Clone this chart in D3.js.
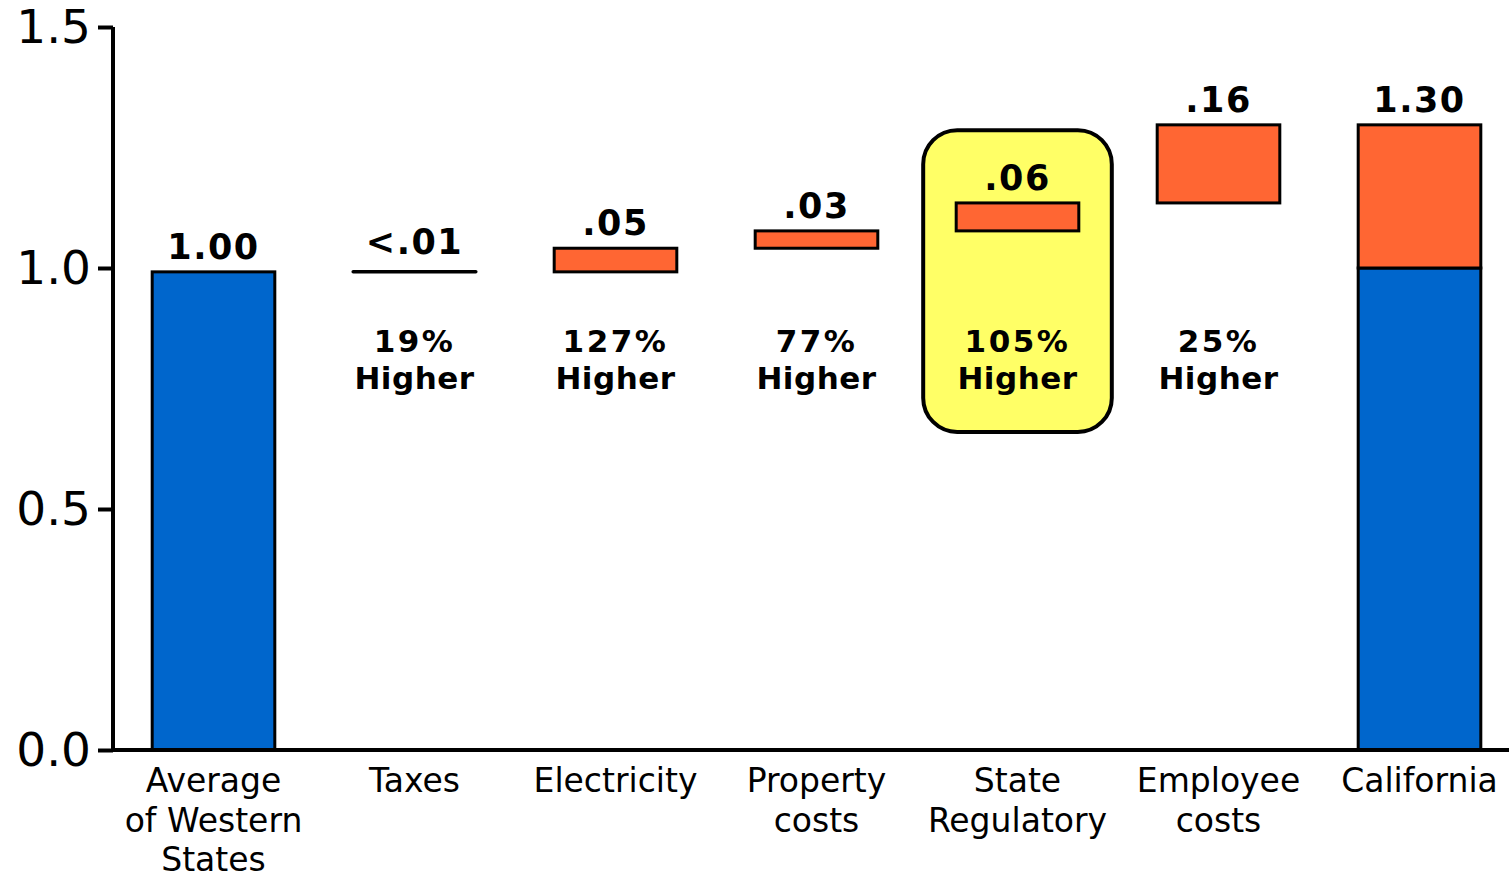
<!DOCTYPE html>
<html><head><meta charset="utf-8">
<script src="https://cdn.jsdelivr.net/npm/d3@7"></script>
<style>html,body{margin:0;padding:0;background:#fff;}svg{display:block;}</style>
</head><body>
<svg id="c" width="1509" height="879"></svg>
<script>
const categories = ["Average\nof Western\nStates", "Taxes", "Electricity", "Property\ncosts", "State\nRegulatory", "Employee\ncosts", "California"];
const barBase  = [0,     0.992, 0.992, 1.041, 1.077, 1.135, 0];
const barTop   = [0.992, 0.992, 1.041, 1.077, 1.135, 1.297, 1.0];
const barKind  = ["base", "line", "delta", "delta", "delta", "delta", "base"];
const stackBase = [null, null, null, null, null, null, 1.0];
const stackTop  = [null, null, null, null, null, null, 1.297];
const valueLabels = ["1.00", "<.01", ".05", ".03", ".06", ".16", "1.30"];
const pctLabels = [null, "19%", "127%", "77%", "105%", "25%", null];
const highlightIndex = 4;
const yTicks = [0, 0.5, 1.0, 1.5];
const yTickLabels = ["0.0", "0.5", "1.0", "1.5"];

const BLUE = "#0066CC", ORANGE = "#FF6633", YELLOW = "#FFFF66";
const svg = d3.select("#c");
const x = d3.scaleBand().domain(d3.range(categories.length)).range([113, 1520]).paddingInner(0.39).paddingOuter(0.195);
const y = d3.scaleLinear().domain([0, 1.5]).range([750, 27]);

// highlight box
const hx = x(highlightIndex), hw = x.bandwidth();
svg.append("rect")
  .attr("x", hx - 33).attr("y", y(1.286))
  .attr("width", hw + 66).attr("height", y(0.66) - y(1.286))
  .attr("rx", 34).attr("ry", 34)
  .attr("fill", YELLOW).attr("stroke", "#000").attr("stroke-width", 4);

// bars
categories.forEach((c, i) => {
  const bx = x(i), bw = x.bandwidth();
  if (barKind[i] === "line") {
    svg.append("line").attr("x1", bx).attr("x2", bx + bw)
      .attr("y1", y(barTop[i])).attr("y2", y(barTop[i]))
      .attr("stroke", "#000").attr("stroke-width", 3.5).attr("stroke-linecap", "round");
  } else {
    svg.append("rect").attr("x", bx).attr("width", bw)
      .attr("y", y(barTop[i])).attr("height", y(barBase[i]) - y(barTop[i]))
      .attr("fill", barKind[i] === "base" ? BLUE : ORANGE)
      .attr("stroke", "#000").attr("stroke-width", 3);
  }
  if (stackBase[i] != null) {
    svg.append("rect").attr("x", bx).attr("width", bw)
      .attr("y", y(stackTop[i])).attr("height", y(stackBase[i]) - y(stackTop[i]))
      .attr("fill", ORANGE).attr("stroke", "#000").attr("stroke-width", 3);
  }
  const top = stackTop[i] != null ? stackTop[i] : barTop[i];
  svg.append("text").attr("x", bx + bw / 2).attr("y", y(top) - (barKind[i] === "line" ? 18 : 13))
    .attr("text-anchor", "middle").attr("font-family", "DejaVu Sans").attr("font-weight", "bold")
    .attr("font-size", 35).attr("letter-spacing", 1.5).text(valueLabels[i]);
  if (pctLabels[i]) {
    const t = svg.append("text").attr("text-anchor", "middle")
      .attr("font-family", "DejaVu Sans").attr("font-weight", "bold").attr("font-size", 31);
    t.append("tspan").attr("x", bx + bw / 2).attr("y", 352).attr("letter-spacing", 2.5).text(pctLabels[i]);
    t.append("tspan").attr("x", bx + bw / 2).attr("y", 389).attr("letter-spacing", 0.5).text("Higher");
  }
});

// axes
const yAxis = svg.append("g").attr("transform", "translate(113,0)")
  .call(d3.axisLeft(y).tickValues(yTicks).tickFormat((d, i) => yTickLabels[i]).tickSize(15).tickPadding(7));
yAxis.select(".domain").attr("stroke-width", 4).attr("d", `M0,${y(1.5)}V${y(0)}`);
yAxis.selectAll(".tick line").attr("stroke-width", 4);
yAxis.selectAll(".tick text").attr("font-family", "DejaVu Sans").attr("font-size", 47).attr("fill", "#000");

svg.append("line").attr("x1", 111).attr("x2", 1509).attr("y1", y(0)).attr("y2", y(0))
  .attr("stroke", "#000").attr("stroke-width", 4);

categories.forEach((c, i) => {
  const t = svg.append("text").attr("text-anchor", "middle")
    .attr("font-family", "DejaVu Sans").attr("font-size", 33).attr("fill", "#000");
  c.split("\n").forEach((ln, k) => {
    t.append("tspan").attr("x", x(i) + x.bandwidth() / 2).attr("y", 792 + k * 39.5).text(ln);
  });
});
</script>
</body></html>
